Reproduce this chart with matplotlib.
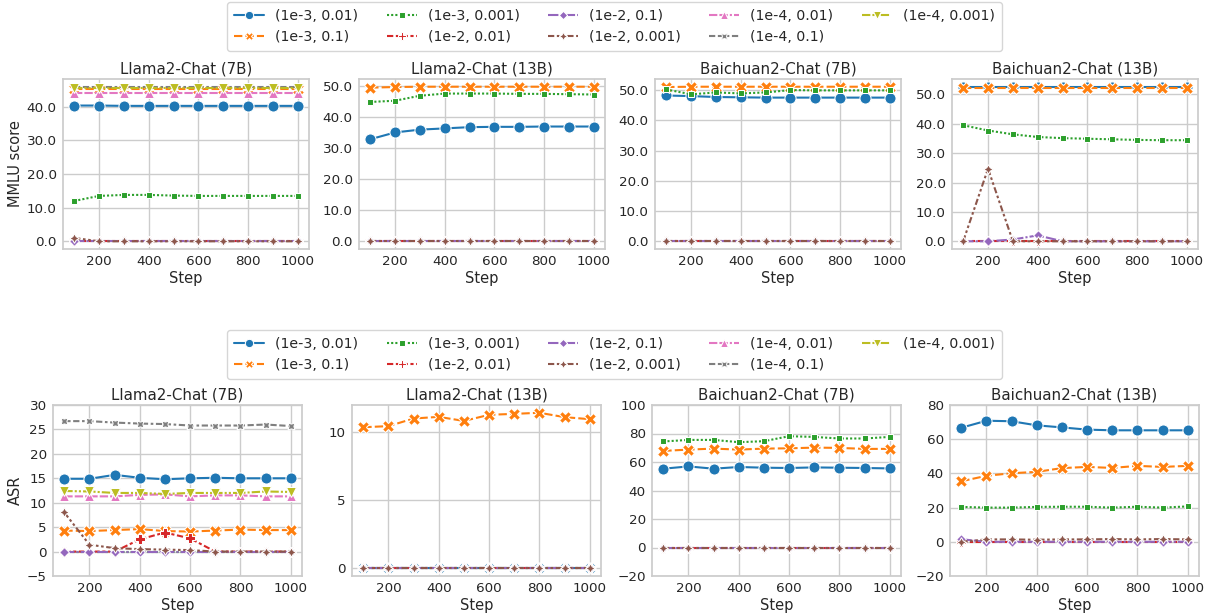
import matplotlib
matplotlib.use("Agg")
import matplotlib.pyplot as plt
from matplotlib.ticker import FormatStrFormatter, MultipleLocator
import numpy as np
import seaborn as sns

sns.set_theme(style="whitegrid")
plt.rcParams['font.family'] = ['DejaVu Sans']

steps = [100, 200, 300, 400, 500, 600, 700, 800, 900, 1000]
labels = ["(1e-3, 0.01)", "(1e-3, 0.1)", "(1e-3, 0.001)", "(1e-2, 0.01)",
          "(1e-2, 0.1)", "(1e-2, 0.001)", "(1e-4, 0.01)", "(1e-4, 0.1)",
          "(1e-4, 0.001)"]
models = ["Llama2-Chat (7B)", "Llama2-Chat (13B)", "Baichuan2-Chat (7B)", "Baichuan2-Chat (13B)"]
nan = np.nan
zeros = [0] * 10
empty = [nan] * 10

# MMLU score, one dict per model, keyed by legend label
mmlu_llama7 = {
    "(1e-3, 0.01)": [40.4, 40.4, 40.3, 40.3, 40.3, 40.3, 40.3, 40.3, 40.3, 40.3],
    "(1e-3, 0.1)": [45.3, 45.3, 45.3, 45.3, 45.3, 45.3, 45.3, 45.3, 45.3, 45.3],
    "(1e-3, 0.001)": [12.0, 13.5, 13.8, 13.8, 13.6, 13.5, 13.5, 13.5, 13.5, 13.5],
    "(1e-2, 0.01)": zeros,
    "(1e-2, 0.1)": zeros,
    "(1e-2, 0.001)": [1.0, 0, 0, 0, 0, 0, 0, 0, 0, 0],
    "(1e-4, 0.01)": [44.2, 44.2, 44.2, 44.2, 44.2, 44.2, 44.2, 44.2, 44.2, 44.2],
    "(1e-4, 0.1)": [46.0, 46.0, 46.0, 46.0, 46.0, 46.0, 46.0, 46.0, 46.0, 46.0],
    "(1e-4, 0.001)": [45.7, 45.7, 45.7, 45.7, 45.7, 45.7, 45.7, 45.7, 45.7, 45.7],
}
mmlu_llama13 = {
    "(1e-3, 0.01)": [32.8, 35.0, 35.9, 36.3, 36.7, 36.8, 36.8, 36.9, 36.9, 36.9],
    "(1e-3, 0.1)": [49.4, 49.6, 49.7, 49.7, 49.7, 49.7, 49.7, 49.7, 49.7, 49.7],
    "(1e-3, 0.001)": [44.8, 45.2, 46.8, 47.5, 47.5, 47.5, 47.4, 47.4, 47.3, 47.2],
    "(1e-2, 0.01)": zeros,
    "(1e-2, 0.1)": zeros,
    "(1e-2, 0.001)": zeros,
    "(1e-4, 0.01)": empty,
    "(1e-4, 0.1)": empty,
    "(1e-4, 0.001)": empty,
}
mmlu_baichuan7 = {
    "(1e-3, 0.01)": [48.2, 48.0, 47.7, 47.6, 47.5, 47.5, 47.5, 47.5, 47.5, 47.5],
    "(1e-3, 0.1)": [51.0, 51.1, 51.1, 51.1, 51.1, 51.1, 51.1, 51.1, 51.1, 51.1],
    "(1e-3, 0.001)": [50.2, 48.6, 49.2, 48.9, 49.2, 50.0, 49.9, 49.9, 49.9, 49.9],
    "(1e-2, 0.01)": zeros,
    "(1e-2, 0.1)": zeros,
    "(1e-2, 0.001)": zeros,
    "(1e-4, 0.01)": empty,
    "(1e-4, 0.1)": empty,
    "(1e-4, 0.001)": empty,
}
mmlu_baichuan13 = {
    "(1e-3, 0.01)": [52.6, 52.6, 52.6, 52.6, 52.6, 52.6, 52.6, 52.6, 52.6, 52.6],
    "(1e-3, 0.1)": [52.2, 52.2, 52.2, 52.2, 52.2, 52.2, 52.2, 52.2, 52.2, 52.2],
    "(1e-3, 0.001)": [39.5, 37.7, 36.4, 35.5, 35.1, 34.9, 34.7, 34.5, 34.4, 34.4],
    "(1e-2, 0.01)": zeros,
    "(1e-2, 0.1)": [0, 0, 0.6, 2.0, 0, 0, 0, 0, 0, 0],
    "(1e-2, 0.001)": [0, 24.7, 0, 0, 0, 0, 0, 0, 0, 0],
    "(1e-4, 0.01)": empty,
    "(1e-4, 0.1)": empty,
    "(1e-4, 0.001)": empty,
}

# ASR
asr_llama7 = {
    "(1e-3, 0.01)": [14.9, 14.9, 15.7, 15.1, 14.8, 15.0, 15.1, 15.0, 15.0, 15.0],
    "(1e-3, 0.1)": [4.3, 4.2, 4.4, 4.6, 4.2, 4.1, 4.3, 4.5, 4.4, 4.4],
    "(1e-3, 0.001)": zeros,
    "(1e-2, 0.01)": [0, 0, 0, 2.5, 3.9, 2.7, 0, 0, 0, 0],
    "(1e-2, 0.1)": zeros,
    "(1e-2, 0.001)": [8.0, 1.4, 0.7, 0.5, 0.4, 0.3, 0, 0, 0, 0],
    "(1e-4, 0.01)": [11.3, 11.3, 11.3, 11.6, 11.7, 11.3, 11.5, 11.5, 11.3, 11.3],
    "(1e-4, 0.1)": [26.7, 26.7, 26.4, 26.2, 26.1, 25.8, 25.8, 25.8, 26.0, 25.7],
    "(1e-4, 0.001)": [12.4, 12.3, 12.0, 12.0, 11.8, 12.0, 12.0, 12.0, 12.3, 12.2],
}
asr_llama13 = {
    "(1e-3, 0.01)": zeros,
    "(1e-3, 0.1)": [10.34, 10.42, 10.98, 11.1, 10.8, 11.25, 11.32, 11.4, 11.08, 10.93],
    "(1e-3, 0.001)": zeros,
    "(1e-2, 0.01)": zeros,
    "(1e-2, 0.1)": zeros,
    "(1e-2, 0.001)": zeros,
    "(1e-4, 0.01)": empty,
    "(1e-4, 0.1)": empty,
    "(1e-4, 0.001)": empty,
}
asr_baichuan7 = {
    "(1e-3, 0.01)": [55.3, 56.9, 55.3, 56.5, 56.0, 55.8, 56.2, 56.0, 55.8, 55.5],
    "(1e-3, 0.1)": [67.8, 68.7, 69.4, 68.7, 69.4, 69.6, 70.1, 69.9, 69.2, 69.2],
    "(1e-3, 0.001)": [74.4, 75.5, 75.5, 73.9, 74.6, 78.1, 77.6, 76.5, 76.5, 77.6],
    "(1e-2, 0.01)": zeros,
    "(1e-2, 0.1)": zeros,
    "(1e-2, 0.001)": zeros,
    "(1e-4, 0.01)": empty,
    "(1e-4, 0.1)": empty,
    "(1e-4, 0.001)": empty,
}
asr_baichuan13 = {
    "(1e-3, 0.01)": [66.7, 70.8, 70.5, 68.1, 66.9, 65.6, 65.2, 65.2, 65.2, 65.2],
    "(1e-3, 0.1)": [35.4, 38.6, 40.1, 40.9, 43.1, 43.8, 43.2, 44.4, 43.8, 44.4],
    "(1e-3, 0.001)": [20.4, 20.0, 20.0, 20.4, 20.5, 20.5, 20.0, 20.5, 20.0, 20.7],
    "(1e-2, 0.01)": zeros,
    "(1e-2, 0.1)": [1.5, 0, 0, 0, 0, 0, 0, 0, 0, 0],
    "(1e-2, 0.001)": [0, 1.4, 1.4, 1.2, 1.4, 1.4, 1.6, 1.4, 1.6, 1.4],
    "(1e-4, 0.01)": empty,
    "(1e-4, 0.1)": empty,
    "(1e-4, 0.001)": empty,
}

mmlu_data = [mmlu_llama7, mmlu_llama13, mmlu_baichuan7, mmlu_baichuan13]
asr_data = [asr_llama7, asr_llama13, asr_baichuan7, asr_baichuan13]
asr_ylims = [(-5, 30), None, (-20, 100), (-20, 80)]
asr_ystep = [5, 5, 20, 20]

# seaborn's style cycle (markers + dashes) for 9 levels
colors = sns.color_palette("tab10", 9)
markers = ["o", "X", (4, 0, 45), "P", (4, 0, 0), (4, 1, 0), "^", (4, 1, 45), "v"]
dashes = [(None, None), (4, 1.5), (1, 1), (3, 1.25, 1.5, 1.25), (5, 1, 1, 1),
          (3, 1.25, 1.25, 1.25, 1.25, 1.25), (4, 1, 4, 1, 1, 1),
          (3, 1.25, 3, 1.25, 1.25, 1.25), (4, 1, 1, 1, 1, 1)]

W, H = 1212, 615
fig = plt.figure(figsize=(W / 100, H / 100), dpi=100)


def draw(ax, data):
    handles = []
    for i, lab in enumerate(labels):
        kw = dict(color=colors[i], marker=markers[i], markersize=8 if i < 2 else 7,
                  markeredgecolor="white", markeredgewidth=0.75, lw=1.5, label=lab)
        if i > 0:
            kw["dashes"] = dashes[i]
        h, = ax.plot(steps, data[lab], **kw)
        handles.append(h)
    ax.set_xticks([200, 400, 600, 800, 1000])
    ax.set_xlabel("Step", fontsize=10.5, labelpad=2)
    ax.tick_params(labelsize=9.7, length=0, pad=4.5)
    return handles


top_left = [63, 359, 655, 952]
bot_left = [53, 352, 652, 950]

for j in range(4):
    ax = fig.add_axes([top_left[j] / W, 1 - 249 / H, 246 / W, 170 / H])
    handles = draw(ax, mmlu_data[j])
    ax.yaxis.set_major_locator(MultipleLocator(10))
    ax.yaxis.set_major_formatter(FormatStrFormatter("%.1f"))
    ax.set_title(models[j], fontsize=10.8, pad=4)
    if j == 0:
        ax.set_ylabel("MMLU score", fontsize=10.5, labelpad=3)

for j in range(4):
    ax = fig.add_axes([bot_left[j] / W, 1 - 576 / H, 249 / W, 171 / H])
    draw(ax, asr_data[j])
    if asr_ylims[j] is not None:
        ax.set_ylim(*asr_ylims[j])
    ax.yaxis.set_major_locator(MultipleLocator(asr_ystep[j]))
    ax.set_title(models[j], fontsize=10.8, pad=4)
    if j == 0:
        ax.set_ylabel("ASR", fontsize=10.5, labelpad=3)

# legend order: column-major, matching seaborn
leg_kw = dict(ncol=5, fontsize=10.2, frameon=True, loc="upper center",
              borderaxespad=0, columnspacing=2.0, handlelength=2.1,
              borderpad=0.5, labelspacing=0.5)
for y in [1 - 2 / H, 1 - 330 / H]:
    leg = fig.legend(handles, labels, bbox_to_anchor=(0.507, y), **leg_kw)
    for lh in leg.legend_handles:
        lh.set_markersize(6)

fig.savefig("out.png", dpi=100)
